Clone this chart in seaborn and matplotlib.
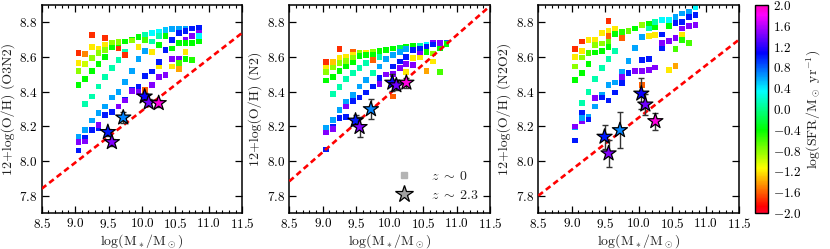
import numpy as np
import pandas as pd
import matplotlib
matplotlib.use("Agg")
import matplotlib.pyplot as plt
import seaborn as sns
from matplotlib.lines import Line2D
from matplotlib.ticker import MultipleLocator, FixedLocator, FixedFormatter
from matplotlib.colors import Normalize
from matplotlib.cm import ScalarMappable

# ---------------- data ----------------
o3n2_mass = [
    9.05, 9.05, 9.05, 9.05, 9.05, 9.05, 9.05,
    9.15, 9.15, 9.15, 9.15, 9.15, 9.15, 9.15,
    9.25, 9.25, 9.25, 9.25, 9.25, 9.25, 9.25,
    9.35, 9.35, 9.35, 9.35, 9.35, 9.35, 9.35,
    9.45, 9.45, 9.45, 9.45, 9.45, 9.45, 9.45,
    9.55, 9.55, 9.55, 9.55, 9.55, 9.55,
    9.65, 9.65, 9.65, 9.65, 9.65, 9.65,
    9.75, 9.75, 9.75, 9.75, 9.75, 9.75,
    9.85, 9.85, 9.85, 9.85, 9.85,
    9.95, 9.95, 9.95, 9.95, 9.95,
    10.05, 10.05, 10.05, 10.05, 10.05, 10.05,
    10.15, 10.15, 10.15, 10.15, 10.15,
    10.25, 10.25, 10.25, 10.25, 10.25, 10.25,
    10.35, 10.35, 10.35, 10.35,
    10.45, 10.45, 10.45, 10.45, 10.45,
    10.55, 10.55, 10.55, 10.55, 10.55, 10.55,
    10.65, 10.65, 10.65, 10.65, 10.65, 10.65,
    10.75, 10.75, 10.75, 10.75, 10.75,
    10.85, 10.85, 10.85, 10.85]
o3n2_oh = [
    8.625, 8.564, 8.520, 8.437, 8.142, 8.061, 8.110,
    8.617, 8.560, 8.474, 8.328, 8.180, 8.136, 8.113,
    8.727, 8.660, 8.593, 8.520, 8.372, 8.234, 8.180,
    8.650, 8.622, 8.560, 8.430, 8.276, 8.190, 8.209,
    8.708, 8.670, 8.640, 8.600, 8.487, 8.314, 8.265,
    8.675, 8.680, 8.655, 8.535, 8.366, 8.282,
    8.670, 8.650, 8.685, 8.583, 8.400, 8.315,
    8.690, 8.630, 8.610, 8.454, 8.353, 8.350,
    8.700, 8.695, 8.520, 8.410, 8.405,
    8.717, 8.660, 8.587, 8.430, 8.400,
    8.727, 8.700, 8.637, 8.490, 8.410, 8.410,
    8.737, 8.690, 8.630, 8.516, 8.440,
    8.746, 8.720, 8.670, 8.545, 8.573, 8.487,
    8.756, 8.720, 8.640, 8.497,
    8.760, 8.700, 8.650, 8.587, 8.545,
    8.765, 8.740, 8.683, 8.587, 8.564, 8.530,
    8.765, 8.752, 8.700, 8.680, 8.630, 8.587,
    8.765, 8.720, 8.720, 8.683, 8.583,
    8.770, 8.740, 8.720, 8.690]
o3n2_sfr = [
    -1.75, -1.2, -0.8, -0.4, 0.6, 1.0, 1.45,
    -1.5, -1.0, -0.4, 0.1, 0.6, 1.0, 1.45,
    -1.75, -1.2, -0.8, -0.4, 0.1, 0.6, 1.0,
    -1.2, -0.8, -0.4, 0.1, 0.6, 1.0, 1.45,
    -1.75, -1.2, -0.8, -0.4, 0.1, 0.6, 1.0,
    -1.2, -0.8, -0.4, 0.1, 0.6, 1.0,
    -0.4, -1.75, -0.8, 0.1, 0.6, 1.45,
    -0.4, 0.1, -1.75, 0.6, 1.0, 1.45,
    -0.4, -0.8, 0.6, 1.0, 1.45,
    -0.4, -1.2, 0.6, 1.0, 1.45,
    0.1, -0.6, 0.6, 1.0, 1.45, -1.6,
    0.35, 0.1, -1.2, 1.0, 1.45,
    0.35, 0.1, -0.4, -1.2, 1.0, 1.45,
    0.5, -0.4, 1.0, 1.45,
    0.6, 1.0, -0.4, 1.45, -1.2,
    0.6, 1.0, -0.4, 1.45, -0.6, -1.4,
    0.6, 1.0, 1.45, -0.4, -1.2, -0.4,
    1.0, 0.35, 1.45, -0.4, -0.5,
    1.0, 1.45, 0.35, -0.4]

n2_mass = [
    9.05, 9.05, 9.05, 9.05, 9.05, 9.05, 9.05,
    9.15, 9.15, 9.15, 9.15, 9.15, 9.15, 9.15,
    9.25, 9.25, 9.25, 9.25, 9.25, 9.25, 9.25,
    9.35, 9.35, 9.35, 9.35, 9.35, 9.35, 9.35,
    9.45, 9.45, 9.45, 9.45, 9.45, 9.45, 9.45,
    9.55, 9.55, 9.55, 9.55, 9.55,
    9.65, 9.65, 9.65, 9.65, 9.65,
    9.75, 9.75, 9.75, 9.75, 9.75,
    9.85, 9.85, 9.85, 9.85, 9.85,
    9.95, 9.95, 9.95,
    10.05, 10.05, 10.05, 10.05, 10.05,
    10.15, 10.15, 10.15, 10.15,
    10.25, 10.25, 10.25, 10.25, 10.25,
    10.35, 10.35, 10.35, 10.35,
    10.45, 10.45, 10.45, 10.45,
    10.55, 10.55, 10.55, 10.55,
    10.65, 10.65, 10.65, 10.65,
    10.75, 10.75, 10.75,
    10.85, 10.85]
n2_oh = [
    8.570, 8.539, 8.512, 8.464, 8.193, 8.067, 8.165,
    8.570, 8.540, 8.487, 8.387, 8.238, 8.200, 8.184,
    8.645, 8.593, 8.564, 8.520, 8.426, 8.295, 8.247,
    8.600, 8.577, 8.545, 8.474, 8.343, 8.314, 8.253,
    8.630, 8.610, 8.593, 8.568, 8.506, 8.382, 8.347,
    8.625, 8.605, 8.535, 8.430, 8.366,
    8.627, 8.610, 8.564, 8.468, 8.395,
    8.630, 8.615, 8.583, 8.506, 8.430,
    8.635, 8.600, 8.545, 8.478, 8.443,
    8.640, 8.587, 8.500,
    8.650, 8.612, 8.545, 8.502, 8.372,
    8.654, 8.630, 8.574, 8.535,
    8.660, 8.645, 8.600, 8.560, 8.512,
    8.664, 8.640, 8.593, 8.554,
    8.666, 8.650, 8.620, 8.597,
    8.673, 8.660, 8.630, 8.520,
    8.680, 8.672, 8.620, 8.574,
    8.680, 8.650, 8.512,
    8.680, 8.675]
n2_sfr = [
    -1.75, -1.2, -0.8, -0.4, 0.6, 1.0, 1.45,
    -1.3, -0.8, -0.4, 0.1, 0.6, 1.0, 1.45,
    -1.75, -1.2, -0.8, -0.4, 0.1, 0.6, 1.0,
    -1.2, -0.8, -0.4, 0.1, 0.6, 1.45, 1.0,
    -1.6, -1.2, -0.8, -0.4, 0.1, 0.6, 1.0,
    -0.8, -0.4, 0.1, 0.6, 1.0,
    -1.2, -0.4, 0.1, 0.6, 1.0,
    -0.8, -0.4, -1.6, 0.1, 1.0,
    -0.4, 0.1, 0.6, 1.0, 1.45,
    -0.4, 0.6, 1.45,
    -0.4, 0.6, 1.0, 1.45, -1.6,
    -0.2, 0.6, 1.0, 1.45,
    -0.4, 0.6, 1.0, 1.45, -1.2,
    -0.4, 1.0, -1.2, 1.45,
    0.1, 1.0, 1.45, -1.2,
    0.35, 1.0, -0.4, -1.4,
    1.45, 1.0, -0.8, -1.2,
    1.45, -0.4, -0.6,
    0.8, -0.4]

n2o2_mass = [
    9.05, 9.05, 9.05, 9.05, 9.05, 9.05, 9.05,
    9.15, 9.15, 9.15, 9.15, 9.15, 9.15, 9.15, 9.15,
    9.25, 9.25, 9.25, 9.25, 9.25, 9.25,
    9.35, 9.35, 9.35, 9.35, 9.35, 9.35,
    9.45, 9.45, 9.45, 9.45, 9.45, 9.45,
    9.55, 9.55, 9.55, 9.55, 9.55, 9.55, 9.55, 9.55,
    9.65, 9.65, 9.65, 9.65, 9.65,
    9.75, 9.75, 9.75, 9.75, 9.75,
    9.85, 9.85, 9.85,
    9.95, 9.95, 9.95,
    10.05, 10.05, 10.05, 10.05, 10.05,
    10.15, 10.15, 10.15, 10.15, 10.15,
    10.25, 10.25, 10.25, 10.25,
    10.35, 10.35, 10.35, 10.35,
    10.45, 10.45, 10.45, 10.45,
    10.55, 10.55, 10.55, 10.55, 10.55,
    10.65, 10.65, 10.65, 10.65, 10.65,
    10.75, 10.75, 10.75, 10.75,
    10.85, 10.85, 10.85]
n2o2_oh = [
    8.645, 8.600, 8.545, 8.468, 8.193, 8.118, 8.200,
    8.690, 8.635, 8.597, 8.510, 8.334, 8.276, 8.228, 8.250,
    8.700, 8.625, 8.558, 8.397, 8.257, 8.240,
    8.700, 8.670, 8.627, 8.474, 8.314, 8.362,
    8.737, 8.679, 8.637, 8.535, 8.382, 8.366,
    8.810, 8.750, 8.720, 8.690, 8.660, 8.590, 8.440, 8.350,
    8.765, 8.733, 8.635, 8.453, 8.395,
    8.746, 8.712, 8.516, 8.450, 8.483,
    8.750, 8.577, 8.506,
    8.765, 8.654, 8.520,
    8.785, 8.714, 8.583, 8.520, 8.440,
    8.790, 8.765, 8.720, 8.589, 8.525,
    8.804, 8.770, 8.727, 8.540,
    8.813, 8.730, 8.683, 8.650,
    8.813, 8.779, 8.693, 8.525,
    8.833, 8.798, 8.712, 8.645, 8.550,
    8.852, 8.804, 8.765, 8.727, 8.698,
    8.860, 8.833, 8.779, 8.683,
    8.890, 8.842, 8.785]
n2o2_sfr = [
    -1.75, -1.2, -0.8, -0.4, 0.6, 1.0, 1.45,
    -1.75, -1.2, -0.8, -0.4, 0.1, 1.0, 1.45, 0.6,
    -1.2, -0.6, -0.4, 0.1, 0.6, 1.0,
    -1.2, -0.8, -0.4, 0.1, 0.6, 1.45,
    -1.2, -0.8, -0.4, 0.1, 0.6, 1.0,
    -1.75, -1.2, -1.6, -0.7, -0.4, 0.1, 0.6, 1.0,
    -1.2, -0.4, 0.1, 0.6, 1.0,
    -0.5, -1.6, 0.6, 1.0, 1.45,
    -0.7, 0.6, 1.0,
    -0.4, 0.6, 1.45,
    -0.8, 0.6, 1.0, 1.45, -1.6,
    -0.4, 0.1, -1.2, 1.0, 1.45,
    0.1, -0.4, -1.2, 1.45,
    0.35, 1.0, 1.45, 1.0,
    0.35, -0.4, 1.45, -1.2,
    0.6, 1.0, 1.45, -0.6, -1.4,
    0.6, 1.0, 1.45, -1.2, -0.5,
    0.6, 1.0, 1.45, -0.6,
    0.35, 1.0, 1.45]

# z~2.3 stacks (stars)
star_mass = [9.49, 9.55, 9.72, 10.04, 10.10, 10.25]
star_sfr = [1.0, 1.45, 0.7, 1.1, 1.4, 1.9]
star_oh_o3n2 = [8.167, 8.109, 8.251, 8.372, 8.337, 8.334]
star_err_o3n2 = [0.02, 0.02, 0.03, 0.02, 0.02, 0.02]
star_oh_n2 = [8.233, 8.196, 8.299, 8.452, 8.437, 8.452]
star_err_n2 = [0.03, 0.058, 0.058, 0.05, 0.03, 0.03]
star_oh_n2o2 = [8.140, 8.044, 8.178, 8.389, 8.326, 8.230]
star_err_n2o2 = [0.07, 0.08, 0.105, 0.09, 0.06, 0.05]

# dashed reference lines
line_mass = [8.5, 11.5]
line_oh_o3n2 = [7.84, 8.74]
line_oh_n2 = [7.883, 8.894]
line_oh_n2o2 = [7.80, 8.70]

ylabels = ["12+log(O/H) (O3N2)", "12+log(O/H) (N2)", "12+log(O/H) (N2O2)"]
legend_labels = [r"$z\;\sim\;0$", r"$z\;\sim\;2.3$"]
cbar_ticks = [-2.0, -1.6, -1.2, -0.8, -0.4, 0.0, 0.4, 0.8, 1.2, 1.6, 2.0]

# ---------------- style ----------------
sns.set_style("ticks")
plt.rcParams.update({
    "font.family": "serif",
    "font.serif": ["cmr10"],
    "mathtext.fontset": "cm",
    "axes.unicode_minus": False,
    "axes.formatter.use_mathtext": True,
    "axes.edgecolor": "black",
    "axes.linewidth": 1.1,
    "xtick.color": "black",
    "ytick.color": "black",
    "text.color": "#222222",
    "axes.labelcolor": "#222222",
})

cmap = plt.get_cmap("gist_rainbow")
norm = Normalize(-2, 2)

fig = plt.figure(figsize=(8.30, 2.49), dpi=100)
lefts = [0.0502, 0.3486, 0.6486]
bottom, width, height = 0.1446, 0.2417, 0.835
axes = [fig.add_axes([l, bottom, width, height]) for l in lefts]
cax = fig.add_axes([0.9096, bottom, 0.0157, height])

panels = [
    (o3n2_mass, o3n2_oh, o3n2_sfr, line_oh_o3n2, star_oh_o3n2, star_err_o3n2),
    (n2_mass, n2_oh, n2_sfr, line_oh_n2, star_oh_n2, star_err_n2),
    (n2o2_mass, n2o2_oh, n2o2_sfr, line_oh_n2o2, star_oh_n2o2, star_err_n2o2),
]

for ax, (m, oh, sfr, lo, soh, serr), ylab in zip(axes, panels, ylabels):
    df = pd.DataFrame({"mass": m, "oh": oh, "sfr": sfr})
    sns.scatterplot(data=df, x="mass", y="oh", hue="sfr", palette="gist_rainbow",
                    hue_norm=norm, marker="s", s=17, linewidth=0, legend=False,
                    ax=ax, zorder=2)
    ax.plot(line_mass, lo, color="red", lw=1.9, linestyle=(0, (2.2, 1.4)), zorder=3)
    ax.errorbar(star_mass, soh, yerr=serr, fmt="none", ecolor="#333333",
                elinewidth=1.0, capsize=2.5, capthick=1.0, zorder=4)
    sdf = pd.DataFrame({"mass": star_mass, "oh": soh, "sfr": star_sfr})
    sns.scatterplot(data=sdf, x="mass", y="oh", hue="sfr", palette="gist_rainbow",
                    hue_norm=norm, marker="*", s=130, edgecolor="black",
                    linewidth=0.9, legend=False, ax=ax, zorder=5)
    ax.set_xlim(8.5, 11.5)
    ax.set_ylim(7.7, 8.9)
    ax.xaxis.set_major_locator(MultipleLocator(0.5))
    ax.xaxis.set_minor_locator(MultipleLocator(0.1))
    ax.yaxis.set_major_locator(MultipleLocator(0.2))
    ax.tick_params(which="both", direction="in", top=True, right=True,
                   labelsize=9.5, pad=3)
    ax.tick_params(which="major", length=5, width=0.9)
    ax.tick_params(which="minor", length=2.5, width=0.8)
    ax.set_xlabel(r"log(M$_*$/M$_\odot$)", fontsize=10, labelpad=1)
    ax.set_ylabel(ylab, fontsize=10, labelpad=3)
    for sp in ax.spines.values():
        sp.set_visible(True)

# legend in middle panel
handles = [
    Line2D([], [], marker="s", linestyle="none", markersize=4.2,
           markerfacecolor="#b4b4b4", markeredgecolor="#b4b4b4"),
    Line2D([], [], marker="*", linestyle="none", markersize=13,
           markerfacecolor="#a0a0a0", markeredgecolor="black", markeredgewidth=0.9),
]
axes[1].legend(handles, legend_labels, loc="lower right",
               frameon=False, fontsize=10, handletextpad=1.2,
               labelspacing=0.45, borderaxespad=0.6, handlelength=1.5,
               borderpad=0.2)

sm = ScalarMappable(norm=norm, cmap=cmap)
cb = fig.colorbar(sm, cax=cax)
cb.set_ticks(cbar_ticks)
cb.ax.yaxis.set_major_formatter(FixedFormatter([r"$%.1f$" % t for t in cbar_ticks]))
cb.ax.tick_params(labelsize=9.5, direction="in", length=3)
cb.outline.set_linewidth(1.0)
cb.set_label(r"log(SFR/M$_\odot$ yr$^{-1}$)", fontsize=10, labelpad=2)

fig.savefig("out.png", dpi=100)
